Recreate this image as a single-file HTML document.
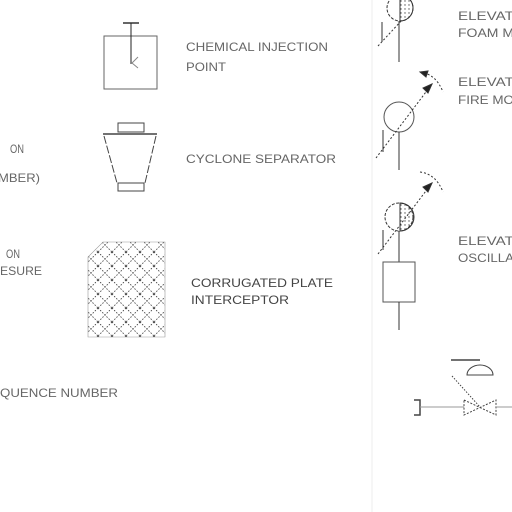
<!DOCTYPE html>
<html><head><meta charset="utf-8"><style>
html,body{margin:0;padding:0;background:#fff;}
svg{display:block}
text{font-family:"Liberation Sans",sans-serif;font-size:12px;fill:#666;}
</style></head><body>
<svg width="512" height="512" viewBox="0 0 512 512">
<defs>
<pattern id="dots" width="4" height="4" patternUnits="userSpaceOnUse"><circle cx="1" cy="1" r="0.7" fill="#555"/></pattern>
<pattern id="xh" width="14" height="14" patternUnits="userSpaceOnUse"><path d="M0 0L14 14M14 0L0 14" stroke="#333" stroke-width="0.8" stroke-dasharray="1.5 1.5"/></pattern>
</defs>
<g>
<text x="10" y="153" textLength="14" lengthAdjust="spacingAndGlyphs">ON</text>
<text x="-2" y="182" textLength="42" lengthAdjust="spacingAndGlyphs">MBER)</text>
<text x="6" y="258" textLength="14" lengthAdjust="spacingAndGlyphs">ON</text>
<text x="0" y="275" textLength="42" lengthAdjust="spacingAndGlyphs">ESURE</text>
<text x="0" y="397" textLength="118" lengthAdjust="spacingAndGlyphs">QUENCE NUMBER</text>
</g>
<g stroke="#444" fill="none">
<rect x="104" y="36" width="53" height="53" stroke="#666"/>
<line x1="123" y1="23" x2="139" y2="23" stroke="#333" stroke-width="1.5"/>
<line x1="131" y1="23" x2="131" y2="64" stroke="#222"/>
<path d="M132 63L138 57M132 63L138 68" stroke="#888"/>
</g>
<text x="186" y="51" textLength="142" lengthAdjust="spacingAndGlyphs">CHEMICAL INJECTION</text>
<text x="186" y="71" textLength="40" lengthAdjust="spacingAndGlyphs">POINT</text>
<g stroke="#444" fill="none">
<rect x="118" y="123" width="26" height="9"/>
<line x1="103" y1="134" x2="157" y2="134" stroke-width="1.5"/>
<path d="M104 136L117 183M156 136L145 183" stroke-dasharray="8 2"/>
<rect x="118" y="183" width="26" height="8"/>
</g>
<text x="186" y="163" textLength="150" lengthAdjust="spacingAndGlyphs">CYCLONE SEPARATOR</text>
<path d="M103 242L165 242L165 337L88 337L88 257Z" fill="url(#xh)" stroke="#999" stroke-width="0.6"/>
<text x="191" y="287" textLength="142" lengthAdjust="spacingAndGlyphs" style="fill:#444">CORRUGATED PLATE</text>
<text x="191" y="304" textLength="98" lengthAdjust="spacingAndGlyphs" style="fill:#444">INTERCEPTOR</text>
<line x1="372" y1="0" x2="372" y2="512" stroke="#eee"/>
<g stroke="#333" fill="none">
<circle cx="400" cy="8" r="13" stroke-dasharray="3 1.5"/>
<path d="M400 -5A13 13 0 0 1 400 21Z" fill="url(#dots)"/>
<line x1="399" y1="21" x2="399" y2="62"/>
<line x1="382" y1="22" x2="382" y2="42"/>
<line x1="378" y1="46" x2="402" y2="20" stroke-dasharray="2 2"/>
</g>
<text x="458" y="20" textLength="60" lengthAdjust="spacingAndGlyphs">ELEVATI</text>
<text x="458" y="37" textLength="56" lengthAdjust="spacingAndGlyphs">FOAM M</text>
<g stroke="#333" fill="none">
<circle cx="399" cy="117" r="15" stroke="#555"/>
<line x1="399" y1="132" x2="399" y2="170"/>
<line x1="383" y1="130" x2="383" y2="152"/>
<line x1="376" y1="158" x2="432" y2="84" stroke-dasharray="2 2"/>
<path d="M432 84L423 88L428 93Z" fill="#222"/>
<path d="M420 72Q436 74 443 92" stroke-dasharray="2 2"/>
<path d="M420 72L428 71L426 77Z" fill="#222"/>
</g>
<text x="458" y="86" textLength="60" lengthAdjust="spacingAndGlyphs">ELEVATI</text>
<text x="458" y="104" textLength="56" lengthAdjust="spacingAndGlyphs">FIRE MO</text>
<g stroke="#333" fill="none">
<circle cx="399" cy="217" r="14" stroke-dasharray="3 1.5"/>
<path d="M400 203A14 14 0 0 1 400 231Z" fill="url(#dots)"/>
<line x1="399" y1="231" x2="399" y2="262"/>
<line x1="383" y1="230" x2="383" y2="250"/>
<line x1="378" y1="254" x2="432" y2="183" stroke-dasharray="2 2"/>
<path d="M432 183L423 187L428 192Z" fill="#222"/>
<path d="M420 172Q436 174 443 192" stroke-dasharray="2 2"/>
<rect x="383" y="262" width="32" height="40" stroke="#555"/>
<line x1="399" y1="302" x2="399" y2="330"/>
</g>
<text x="458" y="245" textLength="60" lengthAdjust="spacingAndGlyphs">ELEVATI</text>
<text x="458" y="262" textLength="56" lengthAdjust="spacingAndGlyphs">OSCILLA</text>
<g stroke="#444" fill="none">
<line x1="451" y1="360" x2="480" y2="360" stroke-width="1.5"/>
<path d="M467 375A13 10 0 0 1 493 375Z"/>
<path d="M414 400L420 400L420 415L414 415" stroke-width="1.5"/>
<line x1="420" y1="407" x2="464" y2="407" stroke="#999"/>
<path d="M464 400L496 415L496 400L464 415Z" stroke-dasharray="2 1.5"/>
<line x1="452" y1="376" x2="480" y2="407" stroke-dasharray="1.5 1.5"/>
<line x1="496" y1="407" x2="512" y2="407" stroke="#999"/>
</g>
</svg>
</body></html>
